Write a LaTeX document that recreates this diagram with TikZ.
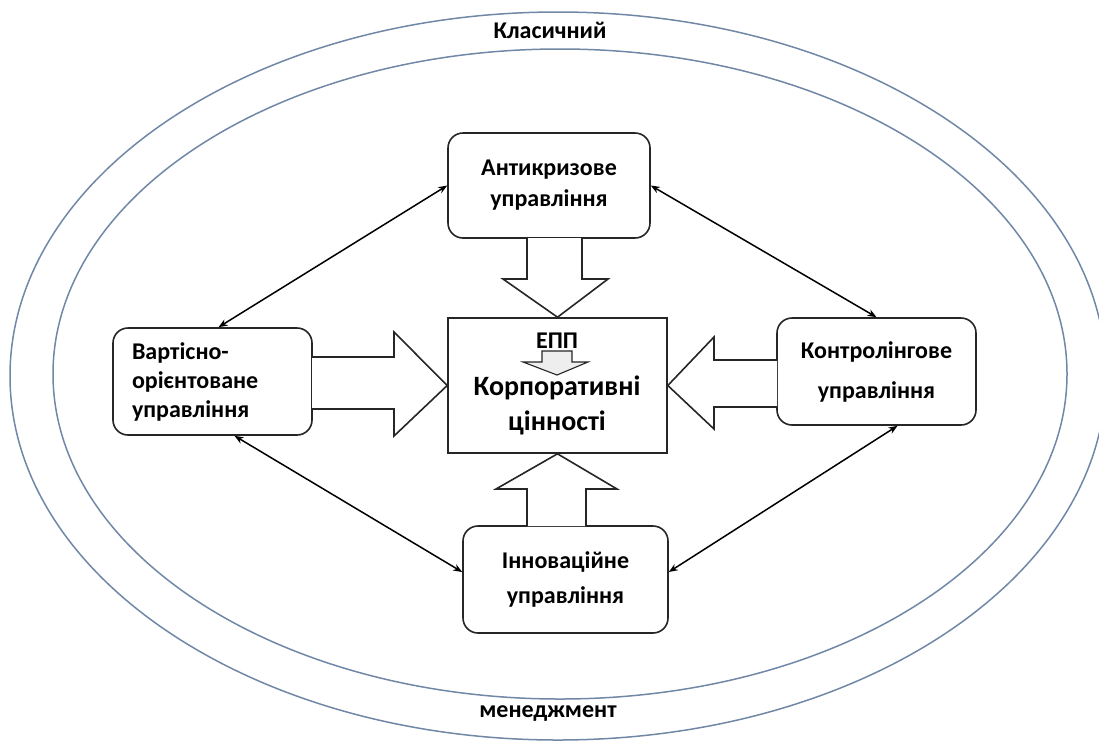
\documentclass[tikz,border=0pt]{standalone}
\usepackage{fontspec}
\setmainfont{Carlito}
\usetikzlibrary{arrows.meta,calc}
\definecolor{ringcol}{RGB}{112,136,166}
\definecolor{eppfill}{RGB}{238,238,238}
\begin{document}
\begin{tikzpicture}[x=1pt,y=-1pt,
  ring/.style={draw=ringcol,line width=1.5pt},
  mbox/.style={draw=black!85,line width=1.6pt,rounded corners=15pt,fill=white,
    font=\fontsize{24}{31}\selectfont\bfseries,align=center,inner sep=0pt},
  cbox/.style={draw=black!85,line width=1.6pt,fill=white,inner sep=0pt},
  fat/.style={draw=black!85,line width=1.6pt,fill=white,line join=miter},
  link/.style={draw=black,line width=1.5pt,{Stealth[length=9pt,width=7pt]}-{Stealth[length=9pt,width=7pt]}},
  lbl/.style={font=\fontsize{24}{28}\selectfont\bfseries,inner sep=0pt}
]
\useasboundingbox (0,0) rectangle (1099,740);
% rings
\draw[ring] (558,376) ellipse [x radius=548, y radius=364];
\draw[ring] (560,374) ellipse [x radius=507, y radius=325];
\node[lbl] (klas) at (550,30) {Класичний};
\node[lbl] (men) at (548,714) {менеджмент};
% boxes
\node[mbox,minimum width=202pt,minimum height=105pt] (T) at (549,185.5) {Антикризове\\управління};
\node[cbox,minimum width=219pt,minimum height=135pt] (C) at (557.5,385.5) {};
\node[mbox,minimum height=107pt,text width=161pt,inner xsep=19pt,align=left,
  font=\fontsize{24}{29}\selectfont\bfseries] (L) at (212.5,381.5) {Вартісно-\\орієнтоване\\управління};
\node[mbox,minimum width=199pt,minimum height=107pt,
  font=\fontsize{24}{40}\selectfont\bfseries] (R) at (876.5,371.5) {Контролінгове\\управління};
\node[mbox,minimum width=205pt,minimum height=107pt,
  font=\fontsize{24}{35}\selectfont\bfseries] (B) at (565.5,579.5) {Інноваційне\\управління};
% fat arrows
\draw[fat] (527,238) -- (527,279) -- (503,279) -- (C.north) -- (608,279) -- (582,279) -- (582,238);
\draw[fat] (312,357) -- (394,357) -- (394,332) -- (C.west) -- (394,436) -- (394,409) -- (312,409);
\draw[fat] (777,360) -- (714,360) -- (714,337) -- (C.east) -- (714,429) -- (714,407) -- (777,407);
\draw[fat] (527,526) -- (527,489) -- (496,489) -- (C.south) -- (617,489) -- (586,489) -- (586,526);
% center content
\node[lbl] (epp) at (557,341) {ЕПП};
\draw[draw=black!85,line width=1.1pt,fill=eppfill,line join=miter]
  (542,351) -- (542,362) -- (523,362) -- (557,375) -- (588,362) -- (572,362) -- (572,351) -- cycle;
\node[font=\fontsize{28}{35}\selectfont\bfseries,align=center,inner sep=0pt] (corp) at (557,405) {Корпоративні\\цінності};
% links
\draw[link] (T.west) -- ([xshift=6pt]L.north);
\draw[link] (T.east) -- (R.north);
\draw[link] ([xshift=22pt]L.south) -- ([yshift=7.5pt]B.west);
\draw[link] ([xshift=21pt]R.south) -- ([yshift=7.5pt]B.east);
\end{tikzpicture}
\end{document}
